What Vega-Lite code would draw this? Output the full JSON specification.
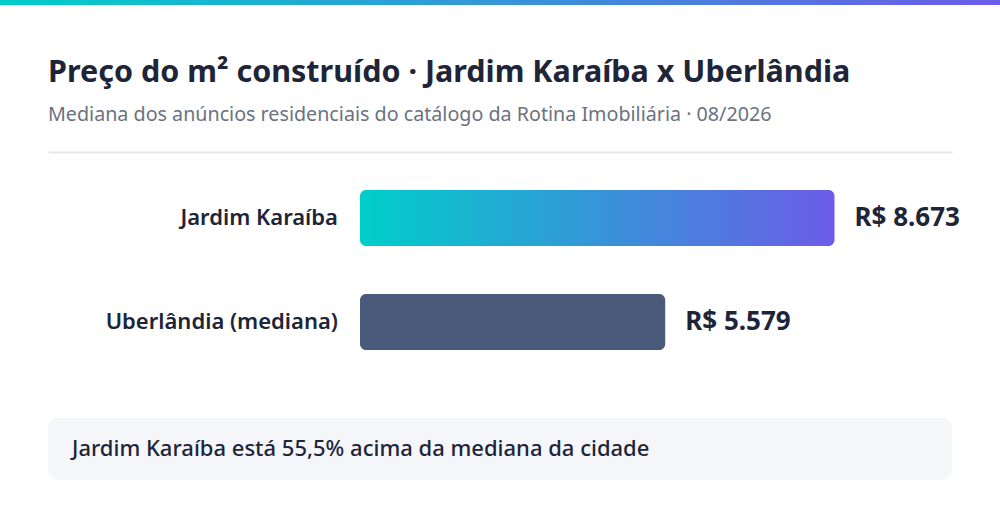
{
  "$schema": "https://vega.github.io/schema/vega-lite/v6.json",
  "background": "white",
  "padding": {"left": 0, "right": 0, "top": 0, "bottom": 0},
  "spacing": 147,
  "center": true,
  "bounds": "flush",
  "config": {
    "view": {"stroke": null},
    "font": "Noto Sans",
    "locale": {"number": {"decimal": ",", "thousands": ".", "grouping": [3], "currency": ["R$ ", ""]}}
  },
  "vconcat": [
    {
      "width": 1000,
      "height": 5,
      "data": {"values": [{"faixa": "topo"}]},
      "mark": {
        "type": "rect",
        "color": {"gradient": "linear", "x1": 0, "x2": 1, "y1": 0, "y2": 0,
          "stops": [{"offset": 0, "color": "#00cec9"}, {"offset": 1, "color": "#6c5ce7"}]}
      },
      "encoding": {}
    },
    {
      "width": 904,
      "height": 328,
      "title": {
        "text": "Preço do m² construído · Jardim Karaíba x Uberlândia",
        "subtitle": "Mediana dos anúncios residenciais do catálogo da Rotina Imobiliária · 08/2026",
        "anchor": "start",
        "frame": "group",
        "fontSize": 30.5,
        "fontWeight": "bold",
        "color": "#1e2538",
        "subtitleFontSize": 19.7,
        "subtitleColor": "#6b7280",
        "subtitleFontWeight": "normal",
        "subtitlePadding": 17,
        "offset": 27
      },
      "resolve": {"scale": {"y": "independent"}, "axis": {"y": "independent"}},
      "layer": [
        {
          "data": {"values": [
            {"local": "Jardim Karaíba", "preco": 8673},
            {"local": "Uberlândia (mediana)", "preco": 5579}
          ]},
          "encoding": {
            "y": {"field": "local", "type": "nominal", "sort": null,
              "scale": {"paddingInner": 0.4615, "paddingOuter": 0.8077, "align": 0.2262},
              "axis": null}
          },
          "layer": [
            {
              "transform": [{"filter": "datum.local === 'Jardim Karaíba'"}],
              "mark": {"type": "bar", "cornerRadius": 6,
                "color": {"gradient": "linear", "x1": 0, "x2": 1, "y1": 0, "y2": 0,
                  "stops": [{"offset": 0, "color": "#00cec9"}, {"offset": 1, "color": "#6c5ce7"}]}},
              "encoding": {
                "x": {"field": "preco", "type": "quantitative",
                  "scale": {"domain": [-5703, 10821], "zero": false, "nice": false},
                  "axis": {"orient": "top", "domainColor": "#e5e7eb", "domainWidth": 2, "labels": false, "ticks": false, "grid": false, "title": null}},
                "x2": {"datum": 0}
              }
            },
            {
              "transform": [{"filter": "datum.local === 'Uberlândia (mediana)'"}],
              "mark": {"type": "bar", "cornerRadius": 6, "color": "#4a5a7b"},
              "encoding": {
                "x": {"field": "preco", "type": "quantitative"},
                "x2": {"datum": 0}
              }
            },
            {
              "mark": {"type": "text", "align": "right", "baseline": "middle", "dx": -22, "fontSize": 22, "fontWeight": 600, "color": "#1e2538"},
              "encoding": {
                "x": {"datum": 0},
                "text": {"field": "local"}
              }
            },
            {
              "mark": {"type": "text", "align": "left", "baseline": "middle", "dx": 20, "fontSize": 26, "fontWeight": "bold", "color": "#1e2538"},
              "encoding": {
                "x": {"field": "preco", "type": "quantitative"},
                "text": {"field": "preco", "type": "quantitative", "format": "$,.0f"}
              }
            }
          ]
        },
        {
          "data": {"values": [{"linha": "resumo", "texto": "Jardim Karaíba está 55,5% acima da mediana da cidade"}]},
          "encoding": {
            "y": {"field": "linha", "type": "nominal",
              "scale": {"paddingInner": 0.5338, "paddingOuter": 1, "align": 1},
              "axis": null}
          },
          "layer": [
            {"mark": {"type": "rect", "color": "#f5f6fa", "cornerRadius": 10}},
            {
              "mark": {"type": "text", "align": "left", "baseline": "middle", "fontSize": 22, "fontWeight": 500, "color": "#1e2538", "x": 24},
              "encoding": {"text": {"field": "texto"}}
            }
          ]
        }
      ]
    }
  ]
}
